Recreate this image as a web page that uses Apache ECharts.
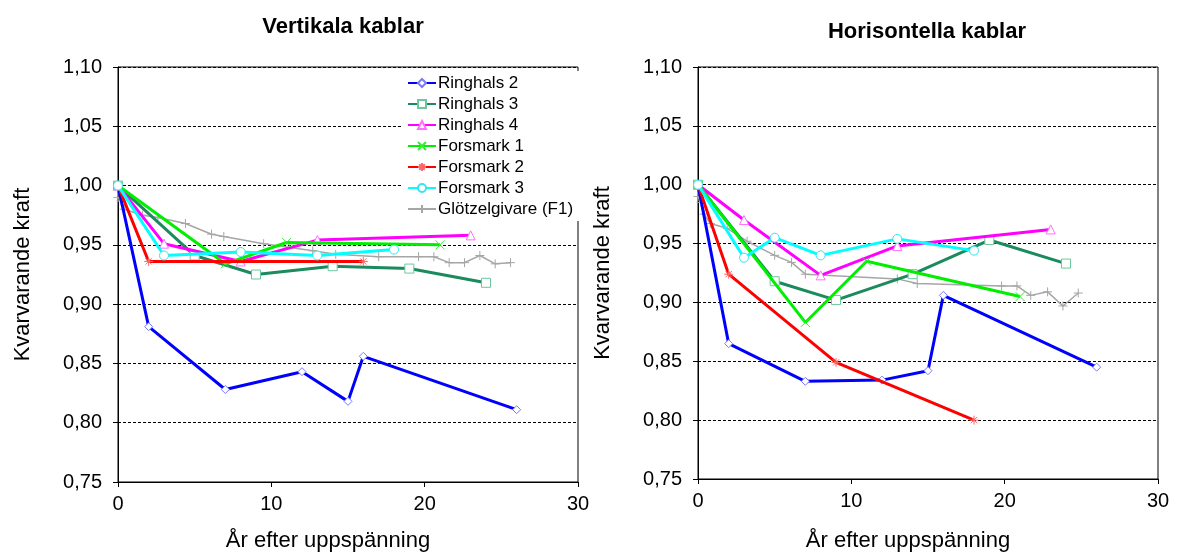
<!DOCTYPE html>
<html>
<head>
<meta charset="utf-8">
<script src="https://cdn.jsdelivr.net/npm/echarts@6/dist/echarts.min.js"></script>
<style>
  html, body { margin: 0; padding: 0; background: #ffffff; }
  #chart { width: 1178px; height: 557px; }
</style>
</head>
<body>
<div id="chart"></div>
<script>
// Labels
const seriesNames = ['Ringhals 2', 'Ringhals 3', 'Ringhals 4', 'Forsmark 1', 'Forsmark 2', 'Forsmark 3', 'Glötzelgivare (F1)'];
const panelTitles = ['Vertikala kablar', 'Horisontella kablar'];
const xAxisTitle = 'År efter uppspänning';
const yAxisTitle = 'Kvarvarande kraft';
const xTicks = [0, 10, 20, 30];
const yTicks = [0.75, 0.80, 0.85, 0.90, 0.95, 1.00, 1.05, 1.10];

// Vertikala kablar: years after tensioning and remaining force
const vertR2Years = [0, 2, 7, 12, 15, 16, 26];
const vertR2 = [1.000, 0.881, 0.828, 0.843, 0.818, 0.856, 0.811];
const vertR3Years = [0, 5, 9, 14, 19, 24];
const vertR3 = [1.000, 0.941, 0.925, 0.932, 0.930, 0.918];
const vertR4Years = [0, 3, 8, 13, 23];
const vertR4 = [1.000, 0.951, 0.936, 0.954, 0.958];
const vertF1Years = [0, 7, 11, 21];
const vertF1 = [1.000, 0.934, 0.952, 0.950];
const vertF2Years = [0, 2, 16];
const vertF2 = [1.000, 0.936, 0.936];
const vertF3Years = [0, 3, 8, 13, 18];
const vertF3 = [1.000, 0.941, 0.944, 0.941, 0.946];
const vertGYears = [0, 0.2, 0.4, 1.6, 2.6, 4.4, 6.1, 6.9, 9.5, 12.7, 14.2, 17.0, 19.6, 20.6, 21.6, 22.6, 23.6, 24.6, 25.6];
const vertG = [0.990, 0.987, 0.980, 0.975, 0.973, 0.968, 0.959, 0.957, 0.951, 0.945, 0.942, 0.940, 0.940, 0.940, 0.935, 0.935, 0.941, 0.934, 0.935];

// Horisontella kablar
const horR2Years = [0, 2, 7, 12, 15, 16, 26];
const horR2 = [1.000, 0.865, 0.833, 0.834, 0.842, 0.906, 0.845];
const horR3Years = [0, 5, 9, 14, 19, 24];
const horR3 = [1.000, 0.918, 0.902, 0.924, 0.953, 0.933];
const horR4Years = [0, 3, 8, 13, 23];
const horR4 = [1.000, 0.970, 0.923, 0.948, 0.962];
const horF1Years = [0, 7, 11, 21];
const horF1 = [1.000, 0.883, 0.935, 0.905];
const horF2Years = [0, 2, 9, 18];
const horF2 = [1.000, 0.924, 0.849, 0.800];
const horF3Years = [0, 3, 5, 8, 13, 18];
const horF3 = [1.000, 0.938, 0.955, 0.940, 0.954, 0.944];
const horGYears = [0, 0.2, 0.4, 0.8, 1.9, 3.2, 5.0, 6.1, 7.0, 13.0, 14.3, 19.8, 20.8, 21.7, 22.8, 23.8, 24.8];
const horG = [0.990, 0.985, 0.975, 0.967, 0.963, 0.952, 0.940, 0.934, 0.924, 0.920, 0.916, 0.914, 0.914, 0.906, 0.909, 0.897, 0.908];

const panels = [
  [[vertR2Years, vertR2], [vertR3Years, vertR3], [vertR4Years, vertR4], [vertF1Years, vertF1], [vertF2Years, vertF2], [vertF3Years, vertF3], [vertGYears, vertG]],
  [[horR2Years, horR2], [horR3Years, horR3], [horR4Years, horR4], [horF1Years, horF1], [horF2Years, horF2], [horF3Years, horF3], [horGYears, horG]]
];

// Styling
const FONT = '"Liberation Sans", Arial, sans-serif';
const lineColors = ['#0000ff', '#1b8a5c', '#ff00ff', '#00ee00', '#ff0000', '#00ffff', '#a6a6a6'];
const markerColors = ['#7a7aff', '#6cc79c', '#ff70ff', '#33ee33', '#ff6a6a', '#33e6f0', '#a6a6a6'];
const lineWidths = [3, 3, 3, 3, 3, 3, 1.5];
const symbols = [
  'diamond',
  'rect',
  'triangle',
  'path://M0,0L10,10M10,0L0,10',
  'path://M0,5L10,5M5,0L5,10M1.5,1.5L8.5,8.5M8.5,1.5L1.5,8.5',
  'circle',
  'path://M0,5L10,5M5,0L5,10'
];
const symbolSizes = [8, 9, 9, 9, 9, 9, 9];

const gridBoxes = [
  { left: 118, right: 600, top: 67, bottom: 71 },
  { left: 698, right: 20, top: 67, bottom: 71 }
];
const titlePos = [[343, 27], [927, 32]];

const fmtY = v => v.toFixed(2).replace('.', ',');

const series = [];
panels.forEach((panel, p) => {
  panel.forEach(([xs, ys], i) => {
    series.push({
      type: 'line',
      name: seriesNames[i],
      xAxisIndex: p,
      yAxisIndex: p,
      data: xs.map((x, k) => [x, ys[k]]),
      symbol: symbols[i],
      symbolSize: symbolSizes[i],
      showAllSymbol: true,
      z: i === 6 ? 1 : 2 + i,
      lineStyle: { color: lineColors[i], width: lineWidths[i] },
      itemStyle: { color: '#ffffff', borderColor: markerColors[i], borderWidth: 1 },
      emphasis: { disabled: true },
      animation: false
    });
  });
});

const makeX = (p, gap) => ({
  type: 'value',
  gridIndex: p,
  min: xTicks[0],
  max: xTicks[xTicks.length - 1],
  interval: xTicks[1] - xTicks[0],
  name: xAxisTitle,
  nameLocation: 'middle',
  nameGap: gap,
  nameTextStyle: { fontFamily: FONT, fontSize: 22, color: '#000', padding: [0, 40, 0, 0] },
  axisLine: { show: true, onZero: false, lineStyle: { color: '#000', width: 1 } },
  axisTick: { show: true, inside: false, length: 5, lineStyle: { color: '#000' } },
  axisLabel: { fontFamily: FONT, fontSize: 20, color: '#000', margin: 12 },
  splitLine: { show: false }
});

const makeY = p => ({
  type: 'value',
  gridIndex: p,
  min: yTicks[0],
  max: yTicks[yTicks.length - 1],
  interval: 0.05,
  name: yAxisTitle,
  nameLocation: 'middle',
  nameGap: 84,
  nameTextStyle: { fontFamily: FONT, fontSize: 22, color: '#000' },
  axisLine: { show: true, onZero: false, lineStyle: { color: '#000', width: 1 } },
  axisTick: { show: true, inside: false, length: 5, lineStyle: { color: '#000' } },
  axisLabel: { fontFamily: FONT, fontSize: 20, color: '#000', margin: 16, formatter: fmtY },
  splitLine: { show: true, lineStyle: { color: '#000', type: [3, 2], width: 1 } }
});

const chart = echarts.init(document.getElementById('chart'), null, { renderer: 'canvas' });
chart.setOption({
  backgroundColor: '#ffffff',
  animation: false,
  graphic: panelTitles.map((t, p) => ({
    type: 'text',
    x: titlePos[p][0],
    y: titlePos[p][1],
    style: { text: t, align: 'center', verticalAlign: 'middle', font: 'bold 22px ' + FONT, fill: '#000' }
  })),
  grid: gridBoxes.map(g => Object.assign({ show: true, borderColor: '#000', borderWidth: 1, backgroundColor: 'transparent' }, g)),
  xAxis: [makeX(0, 48), makeX(1, 51)],
  yAxis: [makeY(0), makeY(1)],
  legend: {
    data: seriesNames,
    orient: 'vertical',
    left: 403,
    top: 71,
    padding: [2, 6, 2, 4],
    itemGap: 1,
    itemWidth: 28,
    itemHeight: 10,
    backgroundColor: '#ffffff',
    selectedMode: false,
    textStyle: { fontFamily: FONT, fontSize: 17, color: '#000', padding: [0, 0, 0, -3], lineHeight: 20 }
  },
  series: series
});
</script>
</body>
</html>
